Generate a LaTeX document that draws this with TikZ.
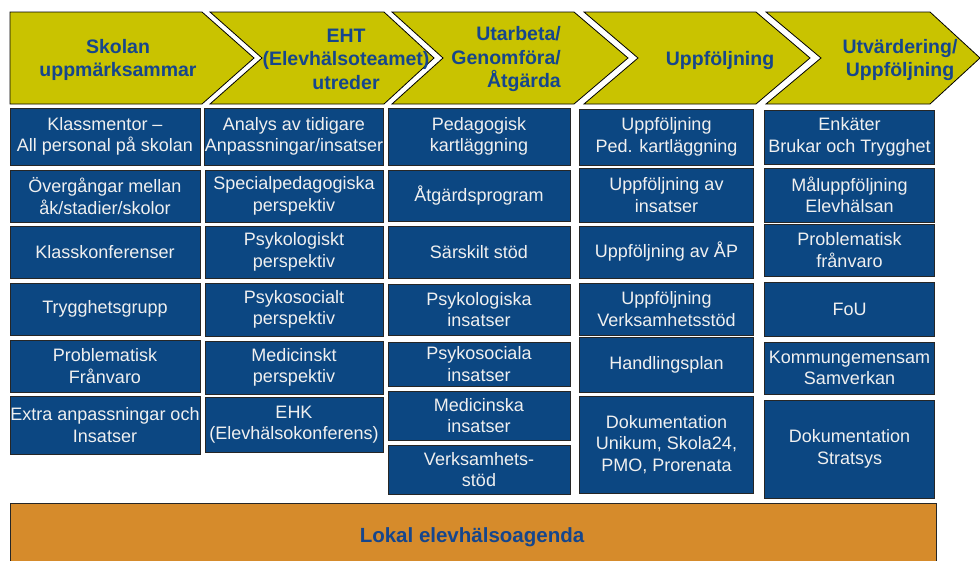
\documentclass[tikz,border=0pt]{standalone}
\usepackage{fontspec}
\setmainfont{Liberation Sans}
\usepackage{tikz}

\definecolor{chevyellow}{RGB}{201,195,0}
\definecolor{cellblue}{RGB}{12,71,130}
\definecolor{agendaorange}{RGB}{214,139,43}
\definecolor{headblue}{RGB}{22,70,140}

\tikzset{
  chev/.style={fill=chevyellow, draw=black, line width=0.8pt, line join=miter},
  phasetext/.style={text=headblue, font=\bfseries\fontsize{19.5}{23.5}\selectfont, align=center, inner sep=0pt},
  cell/.style={fill=cellblue, draw=black!85, line width=1pt, text=white!94!black, font=\fontsize{18}{21.5}\selectfont, align=center, inner sep=0pt},
}

\begin{document}
\begin{tikzpicture}[x=1pt,y=1pt,yscale=-1,xscale=1]
		\useasboundingbox (0,0) rectangle (980,560);
		
		%Shape: Chevron 1
		\draw[chev] (10,12) -- (202,12) -- (254,58) -- (202,104) -- (10,104) -- cycle;
		%Shape: Chevron 2
		\draw[chev] (210,12) -- (384,12) -- (434,58) -- (384,104) -- (210,104) -- (262,58) -- cycle;
		%Shape: Chevron 3
		\draw[chev] (392,12) -- (574,12) -- (628,58) -- (574,104) -- (392,104) -- (443,58) -- cycle;
		%Shape: Chevron 4
		\draw[chev] (584,12) -- (756,12) -- (810,58) -- (756,104) -- (584,104) -- (638,58) -- cycle;
		%Shape: Chevron 5
		\draw[chev] (766,12) -- (930,12) -- (980,58) -- (930,104) -- (766,104) -- (821,58) -- cycle;
		
		% Text Node
		\node[phasetext] (skolan) at (118,60) {Skolan\\uppmärksammar};
		% Text Node
		\node[phasetext] (eht) at (346,59) {EHT\\(Elevhälsoteamet)\\utreder};
		% Text Node
		\node[phasetext, anchor=east, align=right] (utarbeta) at (561,59) {Utarbeta/\\Genomföra/\\Åtgärda};
		% Text Node
		\node[phasetext] (uppf) at (720,60) {Uppföljning};
		% Text Node
		\node[phasetext] (utvard) at (900,60) {Utvärdering/\\Uppföljning};
		
		%Column 1
		\node[cell, minimum width=190pt, minimum height=57pt] (a1) at (105,136.5) {Klassmentor --\\All personal på skolan};
		\node[cell, minimum width=190pt, minimum height=52pt] (a2) at (105,196) {Övergångar mellan\\åk/stadier/skolor};
		\node[cell, minimum width=190pt, minimum height=52pt] (a3) at (105,252) {Klasskonferenser};
		\node[cell, minimum width=190pt, minimum height=52pt] (a4) at (105,309) {Trygghetsgrupp};
		\node[cell, minimum width=190pt, minimum height=52pt] (a5) at (105,366) {Problematisk\\Frånvaro};
		\node[cell, minimum width=190pt, minimum height=58pt] (a6) at (105,425) {Extra anpassningar och\\Insatser};
		
		%Column 2
		\node[cell, minimum width=178pt, minimum height=57pt] (b1) at (294,136.5) {Analys av tidigare\\Anpassningar/insatser};
		\node[cell, minimum width=178pt, minimum height=52pt] (b2) at (294,196) {Specialpedagogiska\\perspektiv};
		\node[cell, minimum width=178pt, minimum height=52pt] (b3) at (294,252) {Psykologiskt\\perspektiv};
		\node[cell, minimum width=178pt, minimum height=53pt] (b4) at (294,309.5) {Psykosocialt\\perspektiv};
		\node[cell, minimum width=178pt, minimum height=53pt] (b5) at (294,367.5) {Medicinskt\\perspektiv};
		\node[cell, minimum width=178pt, minimum height=55pt] (b6) at (294,424.5) {EHK\\(Elevhälsokonferens)};
		
		%Column 3
		\node[cell, minimum width=182pt, minimum height=57pt] (c1) at (479,136.5) {Pedagogisk\\kartläggning};
		\node[cell, minimum width=182pt, minimum height=51pt] (c2) at (479,195.5) {Åtgärdsprogram};
		\node[cell, minimum width=182pt, minimum height=52pt] (c3) at (479,252) {Särskilt stöd};
		\node[cell, minimum width=182pt, minimum height=51pt] (c4) at (479,309.5) {Psykologiska\\insatser};
		\node[cell, minimum width=182pt, minimum height=44pt] (c5) at (479,364) {Psykosociala\\insatser};
		\node[cell, minimum width=182pt, minimum height=49pt] (c6) at (479,415.5) {Medicinska\\insatser};
		\node[cell, minimum width=182pt, minimum height=49pt] (c7) at (479,469.5) {Verksamhets-\\stöd};
		
		%Column 4
		\node[cell, minimum width=174pt, minimum height=56pt] (d1) at (666.5,137) {Uppföljning\\Ped. kartläggning};
		\node[cell, minimum width=174pt, minimum height=54pt] (d2) at (666.5,195) {Uppföljning av\\insatser};
		\node[cell, minimum width=174pt, minimum height=52pt] (d3) at (666.5,252) {Uppföljning av ÅP};
		\node[cell, minimum width=174pt, minimum height=52pt] (d4) at (666.5,309) {Uppföljning\\Verksamhetsstöd};
		\node[cell, minimum width=174pt, minimum height=55pt] (d5) at (666.5,364.5) {Handlingsplan};
		\node[cell, minimum width=174pt, minimum height=97pt] (d6) at (666.5,444.5) {Dokumentation\\Unikum, Skola24,\\PMO, Prorenata};
		
		%Column 5
		\node[cell, minimum width=170pt, minimum height=54pt] (e1) at (849.5,137) {Enkäter\\Brukar och Trygghet};
		\node[cell, minimum width=170pt, minimum height=54pt] (e2) at (849.5,195) {Måluppföljning\\Elevhälsan};
		\node[cell, minimum width=170pt, minimum height=52pt] (e3) at (849.5,250) {Problematisk\\frånvaro};
		\node[cell, minimum width=170pt, minimum height=54pt] (e4) at (849.5,309) {FoU};
		\node[cell, minimum width=170pt, minimum height=52pt] (e5) at (849.5,368) {Kommungemensam\\Samverkan};
		\node[cell, minimum width=170pt, minimum height=98pt] (e6) at (849.5,449) {Dokumentation\\Stratsys};
		
		%Shape: Rectangle
		\draw[fill=agendaorange, draw=black!85, line width=1pt] (10,503) rectangle (936,566);
		% Text Node
		\node[text=headblue, font=\bfseries\fontsize{20.5}{24}\selectfont, inner sep=0pt] (agenda) at (472,537) {Lokal elevhälsoagenda};
		
\end{tikzpicture}
\end{document}
